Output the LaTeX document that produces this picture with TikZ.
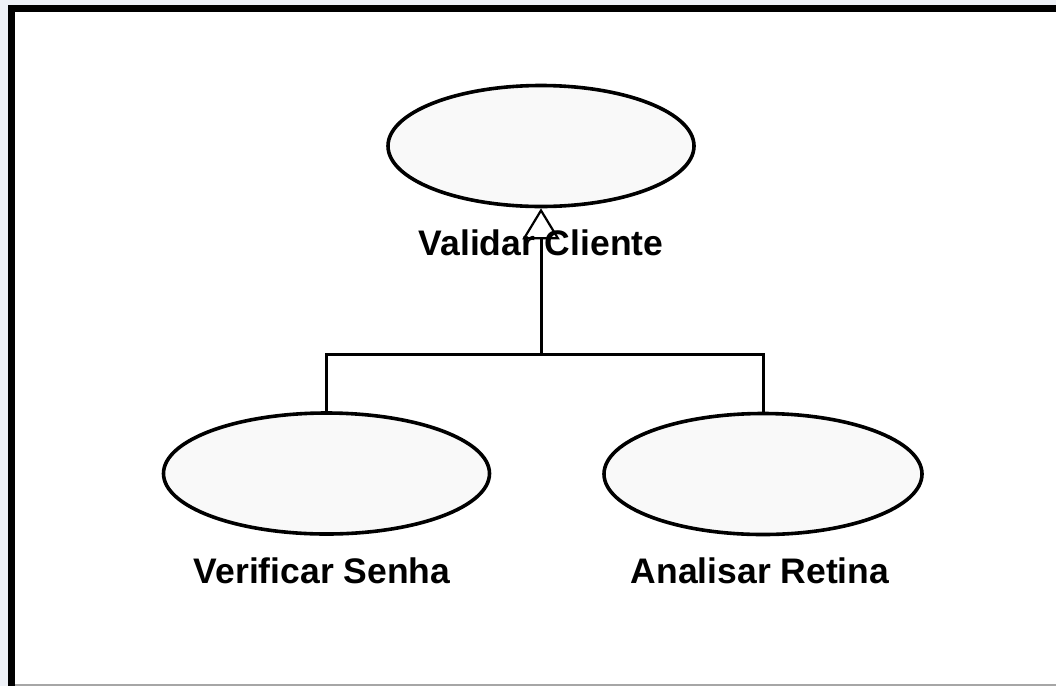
\documentclass[tikz,border=0pt]{standalone}
\usepackage{fontspec}
\setmainfont{Liberation Sans}
\usetikzlibrary{arrows.meta,shapes.geometric}
\definecolor{outerbg}{HTML}{EEF1F7}
\definecolor{ucfill}{HTML}{F9F9F9}
\begin{document}
\begin{tikzpicture}[x=1pt,y=-1pt,
  usecase/.style={ellipse, draw=black, line width=3.6pt, fill=ucfill, inner sep=0pt,
                  minimum width=#1, minimum height=121pt},
  uclabel/.style={font=\fontsize{35.5}{40}\selectfont\bfseries, inner sep=0pt, anchor=base},
  gen/.style={line width=3pt},
  genarrow/.style={gen, -{Triangle[fill=white, length=31pt, width=37pt, line width=2.2pt]}},
  ]
% frame and background
\fill[outerbg] (0,0) rectangle (1056,686);
\fill[white] (15,12) rectangle (1056,684);
\fill[black] (8,5) rectangle (15,686);
\fill[black] (8,5) rectangle (1056,12);
\fill[gray!70] (15,684) rectangle (1056,686);
\useasboundingbox (0,0) rectangle (1056,686);

% use cases
\node[usecase=306pt] (vc) at (541,146) {};
\node[usecase=326pt] (vs) at (326.5,473.5) {};
\node[usecase=318pt] (ar) at (763,474) {};

% generalization connectors
\coordinate (j) at (vc.south |- 0,354);
\draw[gen] (vs.north) |- (j);
\draw[gen] (ar.north) |- (j);
\draw[genarrow] (j) -- (vc.south);

% labels
\node[uclabel] (vcl) at (541,255) {Validar Cliente};
\node[uclabel] (vsl) at (322,583) {Verificar Senha};
\node[uclabel] (arl) at (760,583) {Analisar Retina};
\end{tikzpicture}
\end{document}
